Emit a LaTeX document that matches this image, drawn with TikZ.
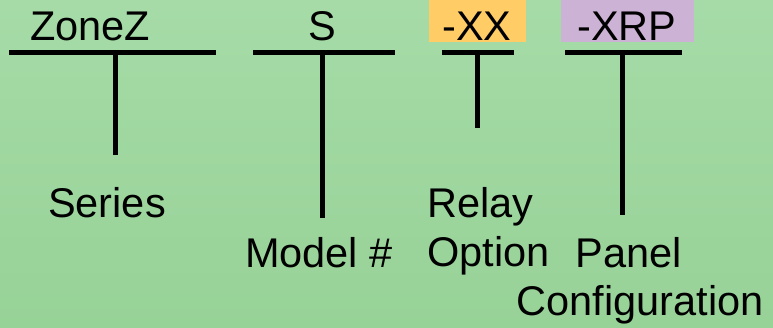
\documentclass[tikz,border=0pt]{standalone}
\usepackage{fontspec}
\setmainfont{Liberation Sans}
\begin{document}
\begin{tikzpicture}[x=1pt,y=-1pt,
  bar/.style={line width=5pt,black},
  stem/.style={line width=5pt,black},
  lbl/.style={inner sep=0pt,anchor=base,font=\fontsize{41.5pt}{37pt}\selectfont},
]
\definecolor{bgtop}{HTML}{A6DBA7}
\definecolor{bgbot}{HTML}{97D297}
\definecolor{orangebox}{HTML}{FFCC66}
\definecolor{purplebox}{HTML}{CCB2D4}
\useasboundingbox (0,0) rectangle (773,327);
\shade[top color=bgtop,bottom color=bgbot] (0,0) rectangle (773,327);
% highlight boxes
\fill[orangebox] (429,0) rectangle (526,42);
\fill[purplebox] (561,0) rectangle (694,42);
% codes
\node[lbl] (zonez) at (90,40) {ZoneZ};
\node[lbl] (s) at (322,40) {S};
\node[lbl] (xx) at (477,40) {-XX};
\node[lbl] (xrp) at (627,40) {-XRP};
% bars
\coordinate (b1l) at (9,52);  \coordinate (b1r) at (216,52); \coordinate (b1m) at (115,52);
\coordinate (b2l) at (253,52); \coordinate (b2r) at (395,52); \coordinate (b2m) at (322,52);
\coordinate (b3l) at (442,52); \coordinate (b3r) at (514,52); \coordinate (b3m) at (477,52);
\coordinate (b4l) at (565,52); \coordinate (b4r) at (682,52); \coordinate (b4m) at (622,52);
\draw[bar] (b1l) -- (b1r);
\draw[bar] (b2l) -- (b2r);
\draw[bar] (b3l) -- (b3r);
\draw[bar] (b4l) -- (b4r);
% stem ends
\coordinate (e1) at (115,155);
\coordinate (e2) at (322,218);
\coordinate (e3) at (477,128);
\coordinate (e4) at (622,215);
\draw[stem] (b1m) -- (e1);
\draw[stem] (b2m) -- (e2);
\draw[stem] (b3m) -- (e3);
\draw[stem] (b4m) -- (e4);
% descriptions
\node[lbl] (series) at (107,217) {Series};
\node[lbl] (model) at (319,267) {Model \#};
\node[lbl,anchor=base west] (relay) at (427,217) {Relay};
\node[lbl,anchor=base west] (option) at (427,266) {Option};
\node[lbl] (panel) at (629,267) {Panel};
\node[lbl] (config) at (640,315) {Configuration};
\end{tikzpicture}
\end{document}
